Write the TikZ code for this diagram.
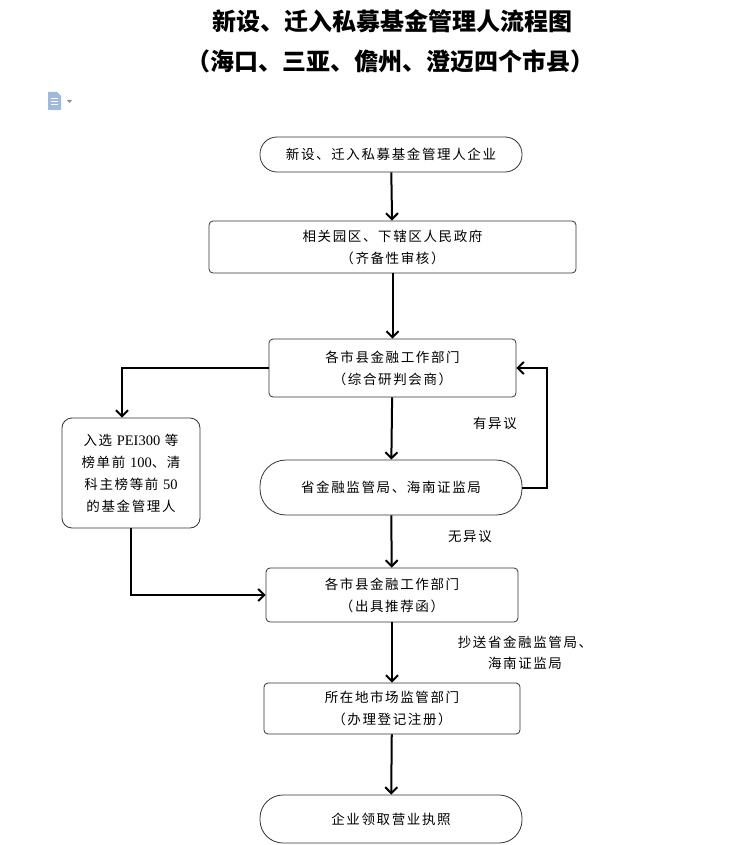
\documentclass[tikz,border=0pt]{standalone}
\usepackage{fontspec}
\setmainfont{Liberation Serif}
\newfontfamily\cjk[LetterSpace=12]{Noto Sans CJK SC}
\newfontfamily\cjktitle{Noto Sans CJK SC}
\definecolor{iconblue}{RGB}{160,185,225}
\usetikzlibrary{arrows.meta, positioning}

\begin{document}
\begin{tikzpicture}[x=1pt, y=-1pt, >={Straight Barb[length=6pt,width=12pt]},
  flowbox/.style={draw=black!80, line width=0.8pt, rounded corners=4pt, inner sep=0pt,
    align=center, font=\cjk\fontsize{13.5}{22}\selectfont},
  capsule/.style={flowbox, rounded corners=17pt},
  flowlabel/.style={align=center, font=\cjk\fontsize{13.5}{21}\selectfont},
  flowarrow/.style={->, line width=2pt}]
  \useasboundingbox (0,0) rectangle (733,845);
  % title
  \node[font=\cjktitle\bfseries\fontsize{24}{28}\selectfont] (title1) at (392,21) {新设、迁入私募基金管理人流程图};
  \node[font=\cjktitle\bfseries\fontsize{24}{28}\selectfont] (title2) at (390,61) {（海口、三亚、儋州、澄迈四个市县）};
  % page icon
  \fill[iconblue] (48,92) -- (57,92) -- (61,96) -- (61,110) -- (48,110) -- cycle;
  \draw[white, line width=0.8pt] (51,98) -- (58,98) (51,101) -- (58,101) (51,104) -- (58,104);
  \fill[black!45] (67,100) -- (72,100) -- (69.5,103) -- cycle;
  % nodes
  \node[capsule, minimum width=262pt, minimum height=35pt] (start) at (391,154.5) {新设、迁入私募基金管理人企业};
  \node[flowbox, minimum width=367pt, minimum height=52pt] (park) at (392.5,247) {相关园区、下辖区人民政府\\（齐备性审核）};
  \node[flowbox, minimum width=247pt, minimum height=58pt] (city1) at (392.5,368) {各市县金融工作部门\\（综合研判会商）};
  \node[flowbox, rounded corners=10pt, minimum width=138pt, minimum height=110pt] (list) at (131,473)
    {入选 {\rmfamily\fontsize{14.5}{22}\selectfont PEI300} 等\\榜单前 {\rmfamily\fontsize{14.5}{22}\selectfont 100}、清\\科主榜等前 {\rmfamily\fontsize{14.5}{22}\selectfont 50}\\的基金管理人};
  \node[capsule, rounded corners=26pt, minimum width=262pt, minimum height=55pt] (prov) at (391,487.5) {省金融监管局、海南证监局};
  \node[flowbox, minimum width=252pt, minimum height=54pt] (city2) at (392,595) {各市县金融工作部门\\（出具推荐函）};
  \node[flowbox, minimum width=256pt, minimum height=51pt] (market) at (392,708.5) {所在地市场监管部门\\（办理登记注册）};
  \node[capsule, rounded corners=23pt, minimum width=262pt, minimum height=48pt] (license) at (391,819) {企业领取营业执照};
  % labels
  \node[flowlabel] (objyes) at (495,423) {有异议};
  \node[flowlabel] (objno) at (470,537) {无异议};
  \node[flowlabel] (copy) at (525,653) {抄送省金融监管局、\\海南证监局};
  % connectors
  \draw[flowarrow] (start) -- (park);
  \draw[flowarrow] (park) -- (city1);
  \draw[flowarrow] (city1) -- (prov);
  \draw[flowarrow] (city1.west) -| ([xshift=-9pt]list.north);
  \draw[flowarrow] (list.south) |- (city2.west);
  \draw[flowarrow] (prov.east) -- ++(25,0) |- (city1.east);
  \draw[flowarrow] (prov) -- (city2);
  \draw[flowarrow] (city2) -- (market);
  \draw[flowarrow] (market) -- (license);
\end{tikzpicture}
\end{document}
